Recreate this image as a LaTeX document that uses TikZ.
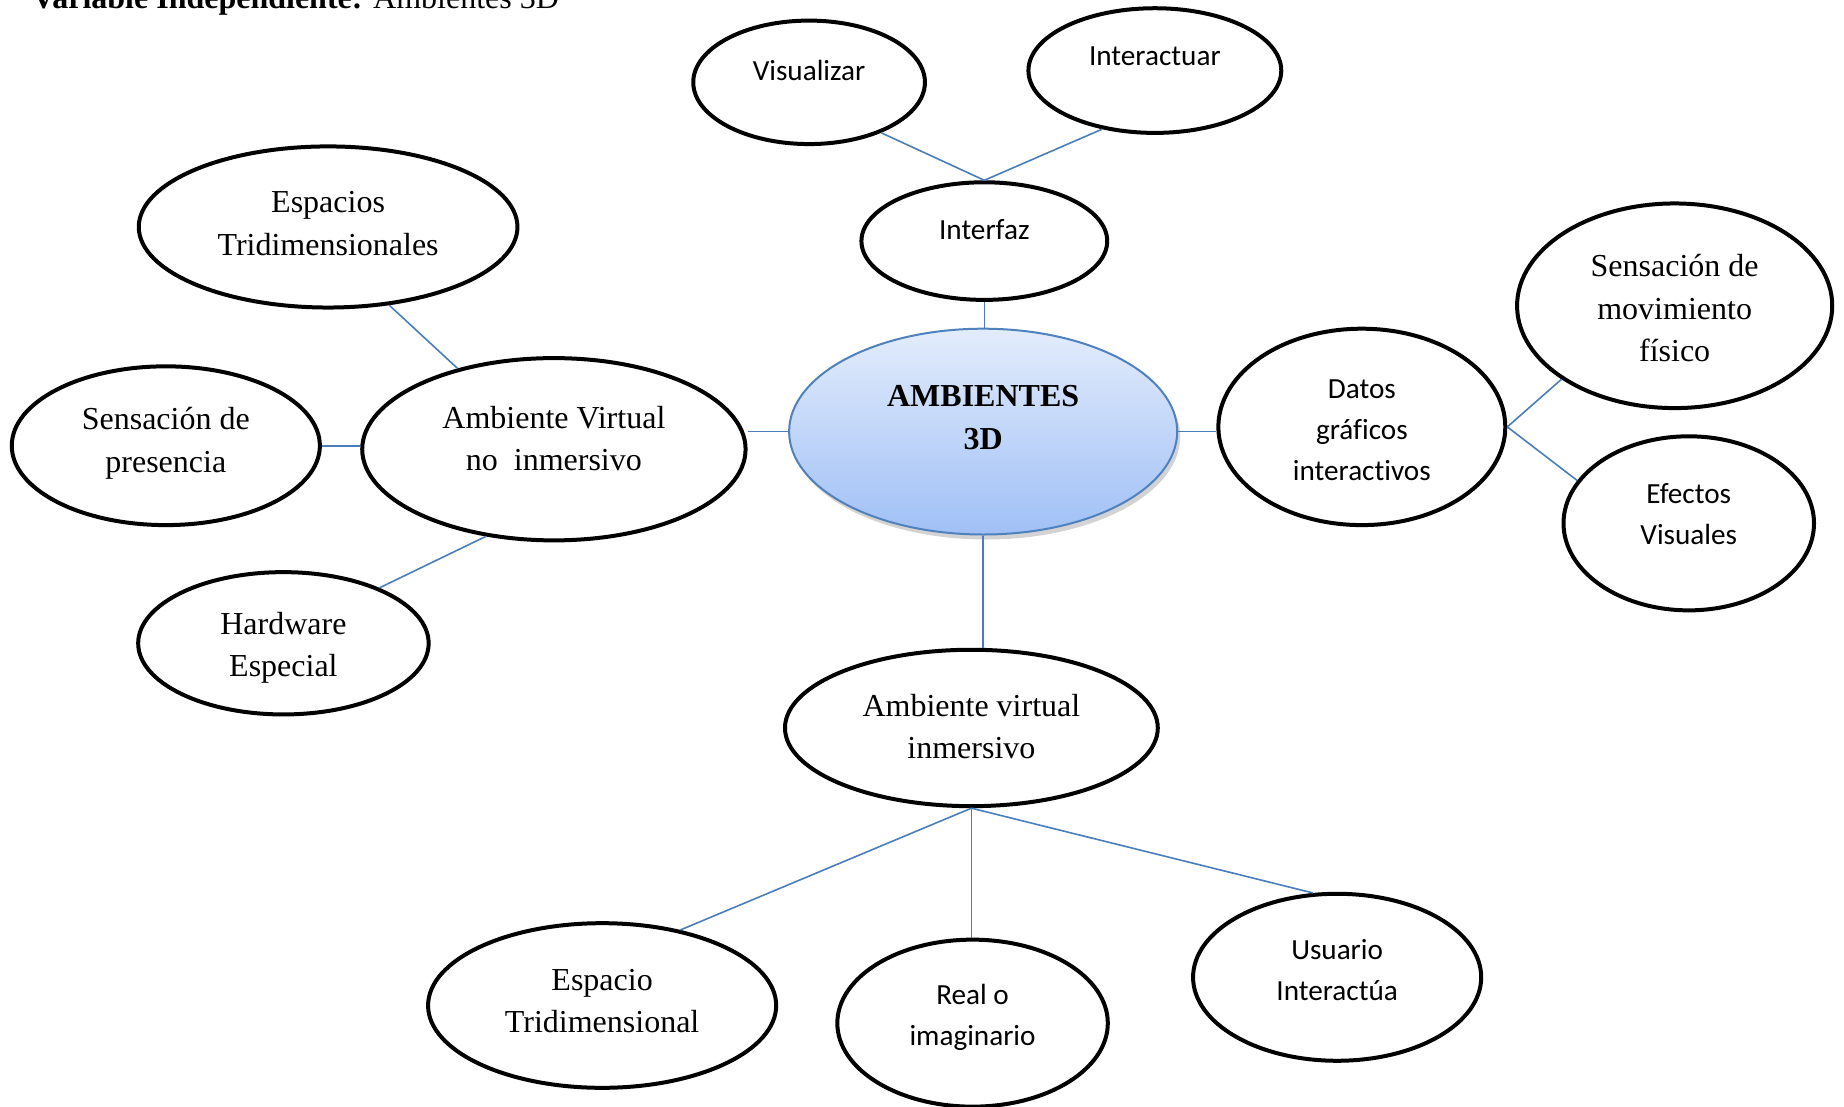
\documentclass[tikz,border=0pt]{standalone}
\usepackage{fontspec}
\setmainfont{Liberation Serif}
\newfontfamily\calfont[Ligatures={NoCommon}]{Carlito}
\usetikzlibrary{shapes.geometric,shadows}
\definecolor{lnk}{HTML}{4A7EBB}
\definecolor{ambtop}{HTML}{E3ECFC}
\definecolor{ambbot}{HTML}{A0C0F6}
\definecolor{ambborder}{HTML}{4F81BD}
\begin{document}
\begin{tikzpicture}[x=0.588pt,y=-0.588pt,
  bub/.style 2 args={ellipse, draw, fill=white, line width=2pt, minimum width=#1*0.588pt, minimum height=#2*0.588pt, inner sep=0pt},
  tms/.style={font=\fontsize{16}{21.2}\selectfont, align=center, inner sep=0pt},
  cal/.style={font=\calfont\fontsize{14.6}{20.6}\selectfont, align=center, inner sep=0pt},
  link/.style={draw=lnk, line width=0.8pt}]
\useasboundingbox (0,0) rectangle (1568,941);
\clip (0,0) rectangle (1568,941);

\node[anchor=base west, inner sep=0pt, font=\fontsize{16}{19}\selectfont] (title) at (27,7.5) {\textbf{Variable Independiente:} Ambientes 3D};

% ellipses
\node[bub={197}{105}] (vis) at (688,70) {};
\node[bub={215}{106}] (inter) at (982,60) {};
\node[bub={209}{100}] (ifz) at (837,205) {};
\node[ellipse, draw=ambborder, line width=1pt, top color=ambtop, bottom color=ambbot,
      drop shadow={shadow xshift=1.5pt, shadow yshift=-2.5pt, opacity=0.35},
      minimum width=330*0.588pt, minimum height=175*0.588pt, inner sep=0pt] (amb) at (836,367) {};
\node[bub={322}{137}] (esp) at (279,193) {};
\node[bub={262}{135}] (pres) at (141,379) {};
\node[bub={326}{155}] (avni) at (471,382) {};
\node[bub={247}{121}] (hw) at (241,547) {};
\node[bub={244}{167}] (datos) at (1158,363) {};
\node[bub={268}{174}] (smf) at (1424,260) {};
\node[bub={213}{148}] (efx) at (1436,445) {};
\node[bub={317}{133}] (avi) at (826,619) {};
\node[bub={296}{140}] (esp3) at (512,855) {};
\node[bub={230}{142}] (real) at (827,870) {};
\node[bub={245}{142}] (usr) at (1137,831) {};

% texts
\node[cal] (tvis) at (688,60) {Visualizar};
\node[cal] (tinter) at (982,48) {Interactuar};
\node[cal] (tifz) at (837,195) {Interfaz};
\node[tms, font=\bfseries\fontsize{16}{21.2}\selectfont] (tamb) at (836,355) {AMBIENTES\\3D};
\node[tms] (tesp) at (279,190) {Espacios\\Tridimensionales};
\node[tms] (tpres) at (141,377) {Sensación de\\presencia};
\node[tms] (tavni) at (471,373) {Ambiente Virtual\\no\ \ inmersivo};
\node[tms] (thw) at (241,551) {Hardware\\Especial};
\node[cal] (tdatos) at (1158,366) {Datos\\gráficos\\interactivos};
\node[tms] (tsmf) at (1424,262) {Sensación de\\movimiento\\físico};
\node[cal] (tefx) at (1436,437) {Efectos\\Visuales};
\node[tms] (tavi) at (826,618) {Ambiente virtual\\inmersivo};
\node[tms] (tesp3) at (512,851) {Espacio\\Tridimensional};
\node[cal] (treal) at (827,865) {Real o\\imaginario};
\node[cal] (tusr) at (1137,825) {Usuario\\Interactúa};

% connectors
\draw[link] (vis.-35) -- (ifz.north);
\draw[link] (inter.-132) -- (ifz.north);
\draw[link] (ifz.south) -- (ifz.south |- amb.north);
\draw[link] (esp.-52) -- (avni.140);
\draw[link] (pres.east) -- (pres.east -| avni.west);
\draw[link] (hw.30) -- (avni.-128);
\draw[link] (amb.west) -- (amb.west -| avni.east);
\draw[link] (amb.east) -- (amb.east -| datos.west);
\draw[link] (datos.east) -- (smf.213);
\draw[link] (datos.east) -- (efx.159);
\draw[link] (amb.south) -- (amb.south |- avi.north);
\draw[link] (avi.south) -- (esp3.44);
\draw[link] (avi.south) -- (avi.south |- real.north);
\draw[link] (avi.south) -- (usr.106);
\end{tikzpicture}
\end{document}
